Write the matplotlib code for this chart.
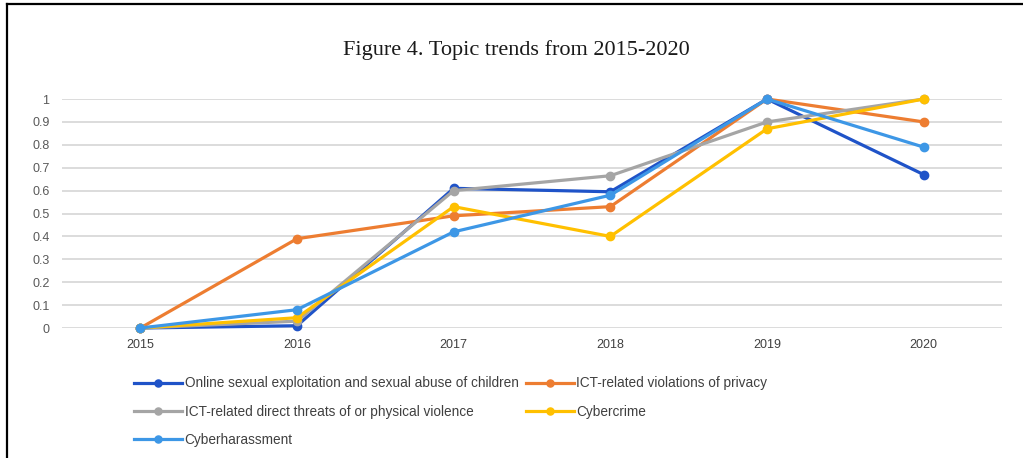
import matplotlib
matplotlib.use("Agg")
import matplotlib.pyplot as plt
from matplotlib.lines import Line2D

years = [2015, 2016, 2017, 2018, 2019, 2020]
series_names = [
    "Online sexual exploitation and sexual abuse of children",
    "ICT-related violations of privacy",
    "ICT-related direct threats of or physical violence",
    "Cybercrime",
    "Cyberharassment",
]
online_abuse = [0, 0.01, 0.61, 0.595, 1.0, 0.67]
privacy = [0, 0.39, 0.49, 0.53, 1.0, 0.90]
threats = [0, 0.03, 0.60, 0.665, 0.90, 1.0]
cybercrime = [0, 0.045, 0.53, 0.40, 0.87, 1.0]
harassment = [0, 0.08, 0.42, 0.58, 1.0, 0.79]
yticks = [0, 0.1, 0.2, 0.3, 0.4, 0.5, 0.6, 0.7, 0.8, 0.9, 1]
ytick_labels = ["0", "0.1", "0.2", "0.3", "0.4", "0.5", "0.6", "0.7", "0.8", "0.9", "1"]

colors = ["#1F53C8", "#ED7D31", "#A5A5A5", "#FFC000", "#3D97E6"]
all_series = [online_abuse, privacy, threats, cybercrime, harassment]

plt.rcParams["font.family"] = ["Liberation Sans", "DejaVu Sans"]

fig = plt.figure(figsize=(10.23, 4.58), dpi=100)
ax = fig.add_axes([0.0606, 0.2838, 0.9189, 0.5000])

handles = []
for name, vals, c in zip(series_names, all_series, colors):
    h, = ax.plot(years, vals, "-o", color=c, linewidth=2.3, markersize=6,
                 label=name, clip_on=False)
    handles.append(h)

ax.set_xlim(2014.5, 2020.5)
ax.set_ylim(0, 1)
ax.set_xticks(years)
ax.set_xticklabels([str(y) for y in years], fontsize=9, color="#404040")
ax.set_yticks(yticks)
ax.set_yticklabels(ytick_labels, fontsize=9, color="#595959")
ax.tick_params(length=0)
ax.tick_params(axis="x", pad=8)
ax.tick_params(axis="y", pad=9)
ax.grid(axis="y", color="#D9D9D9", linewidth=1.3)
ax.set_axisbelow(True)
for s in ax.spines.values():
    s.set_visible(False)

fig.text(0.505, 0.89, "Figure 4. Topic trends from 2015-2020",
         ha="center", va="center", fontsize=16, family="Liberation Serif",
         color="#1a1a1a")

# row-major legend order: fill columns as [0,2,4] and [1,3]
order = [0, 2, 4, 1, 3]
fig.legend([handles[i] for i in order], [series_names[i] for i in order],
           ncol=2, loc="upper left", bbox_to_anchor=(0.126, 0.19),
           frameon=False, fontsize=9.8, handlelength=3.5, handletextpad=0.2,
           columnspacing=0.55, labelspacing=1.05, borderaxespad=0,
           labelcolor="#404040", markerscale=0.85)

# frame lines at top and left
fig.add_artist(Line2D([0.0068, 1.0], [0.9913, 0.9913], color="black", linewidth=1.6,
                      transform=fig.transFigure))
fig.add_artist(Line2D([0.0068, 0.0068], [0.0, 0.9913], color="black", linewidth=1.6,
                      transform=fig.transFigure))

plt.savefig("out.png", dpi=100)
plt.close()
